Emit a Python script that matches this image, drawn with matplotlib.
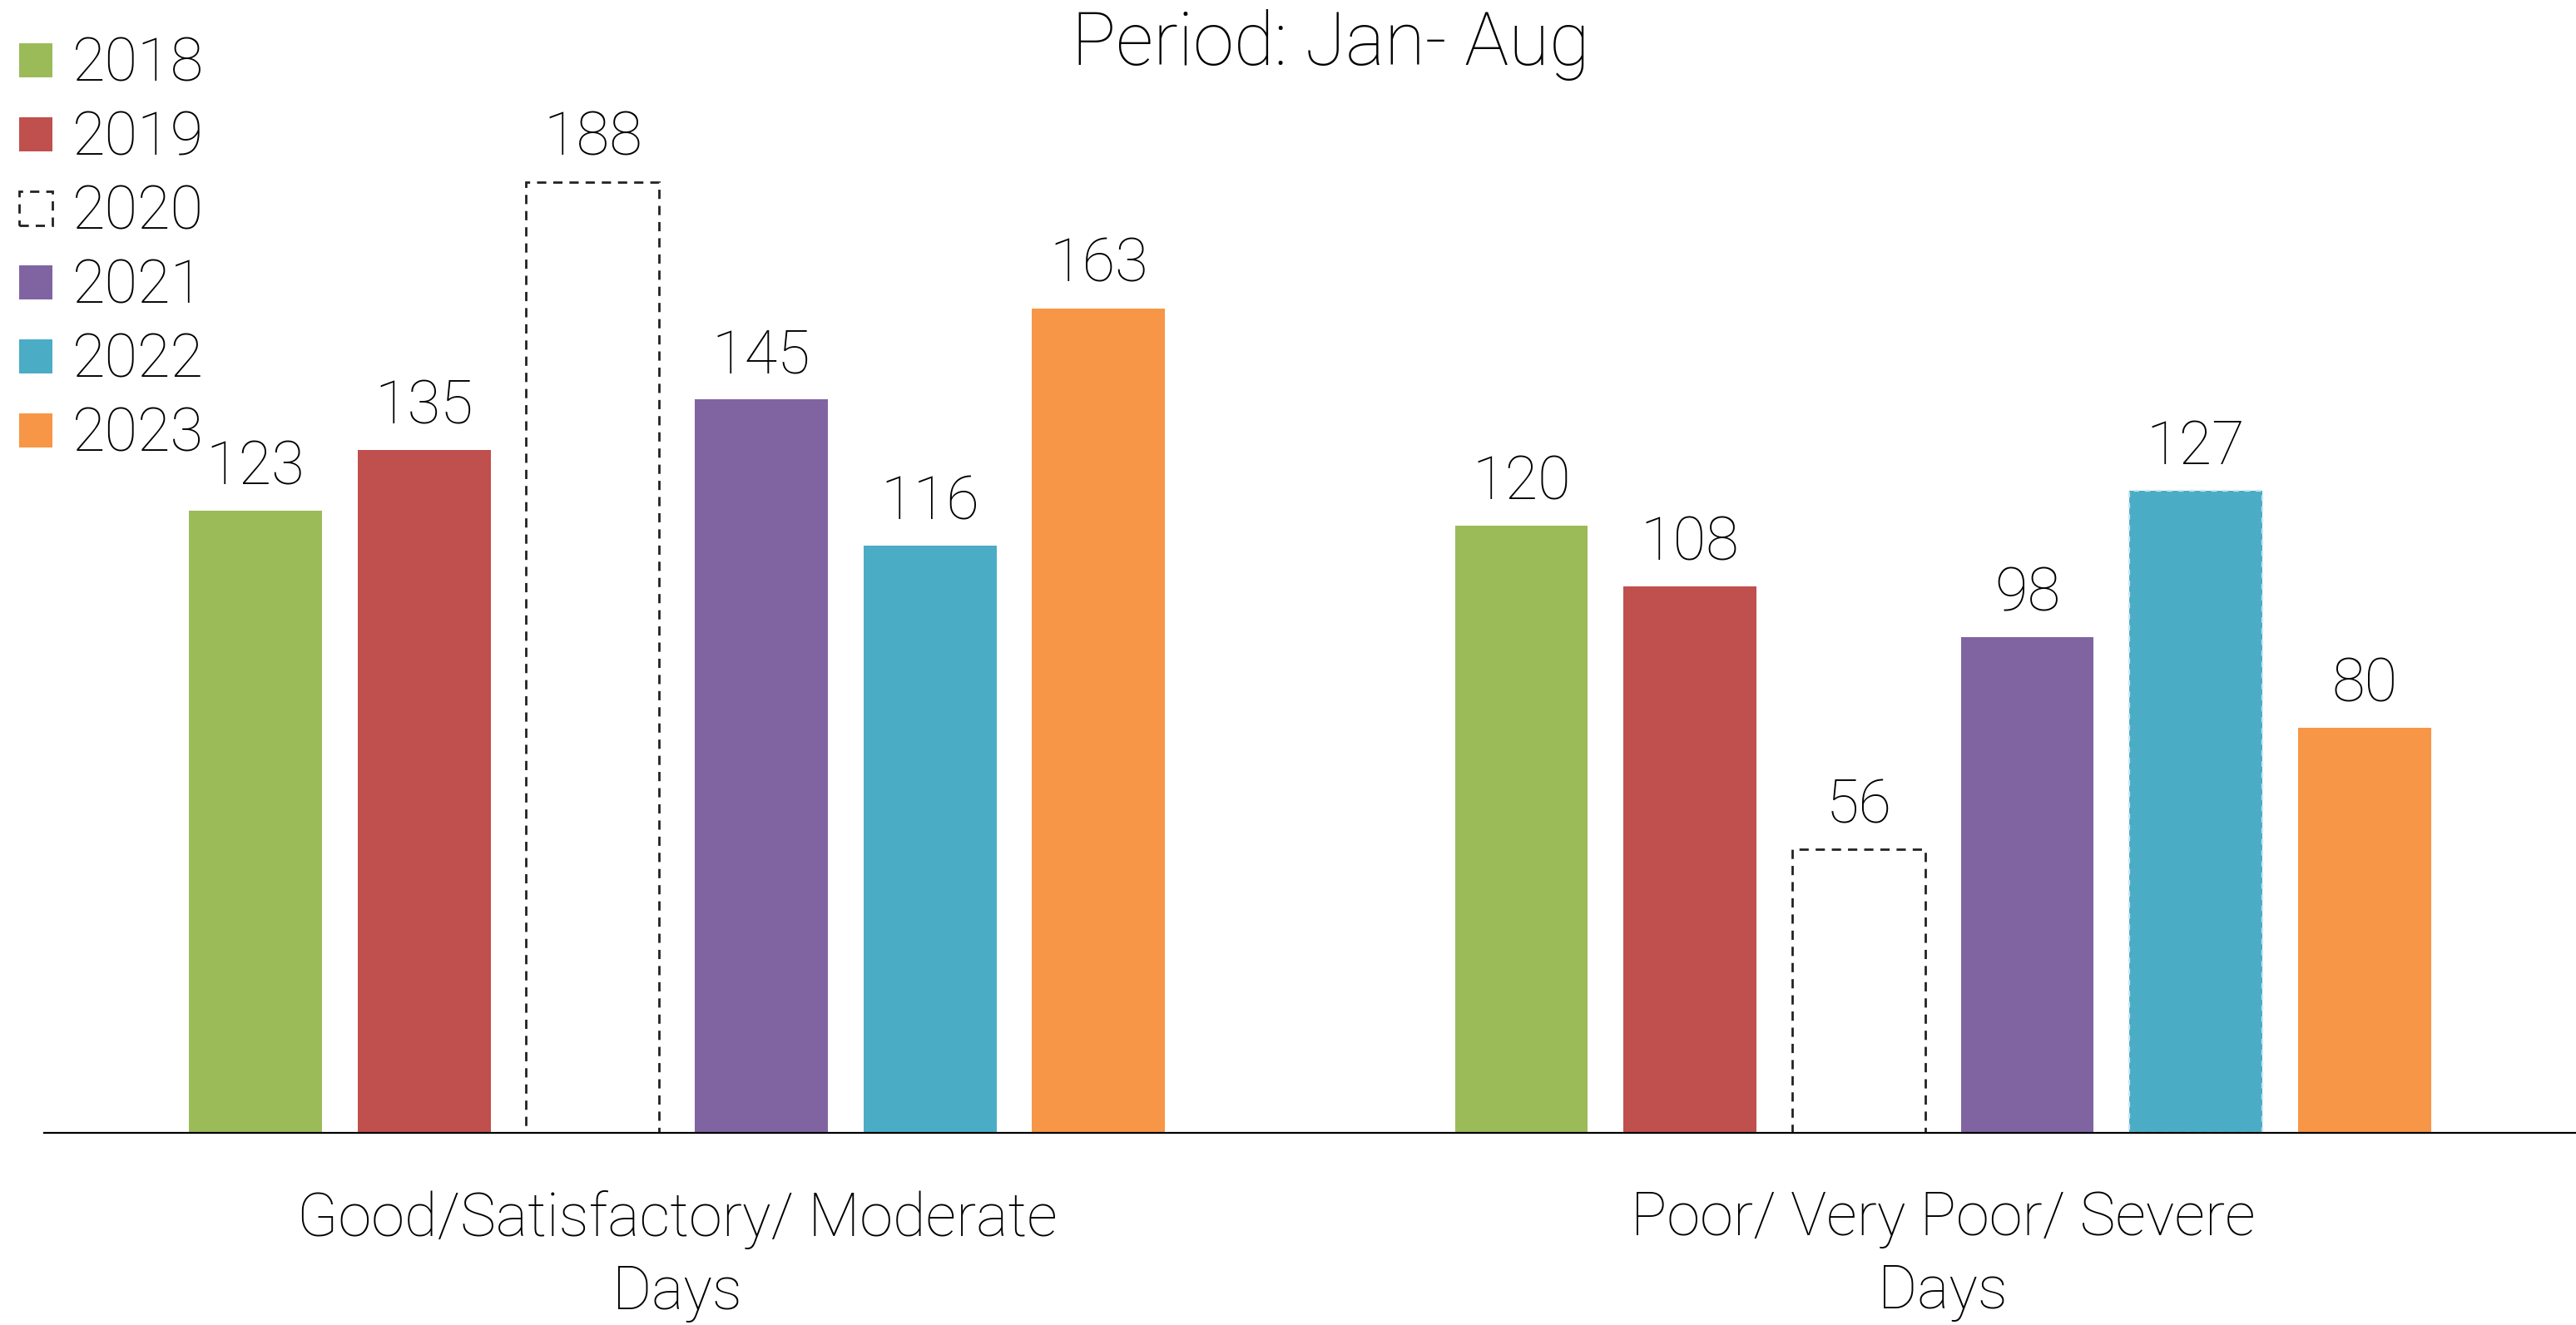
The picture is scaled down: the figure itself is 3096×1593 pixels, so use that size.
import matplotlib
matplotlib.use("Agg")
import matplotlib.pyplot as plt
import numpy as np

FIG_SIZE = (15.48, 7.965)

plt.rcParams['font.family'] = ['Roboto', 'DejaVu Sans']
plt.rcParams['font.weight'] = 'light'

categories = ["Good/Satisfactory/ Moderate\nDays", "Poor/ Very Poor/ Severe\nDays"]
years = ["2018", "2019", "2020", "2021", "2022", "2023"]
values = {
    "2018": [123, 120],
    "2019": [135, 108],
    "2020": [188, 56],
    "2021": [145, 98],
    "2022": [116, 127],
    "2023": [163, 80],
}
colors = ["#9BBB59", "#C0504D", "white", "#8064A2", "#4BACC6", "#F79646"]

fig = plt.figure(figsize=FIG_SIZE, dpi=200)
ax = fig.add_axes([0.0171, 0.145, 0.9829, 0.84])

x = np.arange(len(categories))
step = 0.1332
width = 0.105

for i, yr in enumerate(years):
    pos = x + (i - 2.5) * step
    if yr == "2020":
        bars = ax.bar(pos, values[yr], width, color="white", edgecolor="#222222",
                      linestyle=(0, (4, 3)), linewidth=1.0, label=yr)
    else:
        bars = ax.bar(pos, values[yr], width, color=colors[i], label=yr)
    for b, v in zip(bars, values[yr]):
        ax.annotate(str(v), (b.get_x() + b.get_width() / 2, v),
                    xytext=(0, 6), textcoords="offset points",
                    ha="center", va="bottom", fontsize=26)

# 2022 bar in the second group has a dashed light outline
b = ax.patches[4 * 2 + 1]
b.set_edgecolor("#C9E6EE")
b.set_linestyle((0, (3, 3)))
b.set_linewidth(0.8)

ax.set_xlim(-0.5, 1.5)
ax.set_ylim(0, 220)
ax.set_xticks(x)
ax.set_xticklabels(categories, fontsize=26, linespacing=1.32)
ax.tick_params(axis="x", length=0, pad=25)
ax.set_yticks([])
for s in ["top", "right", "left"]:
    ax.spines[s].set_visible(False)
ax.spines["bottom"].set_linewidth(0.8)

fig.text(0.5166, 0.966, "Period: Jan- Aug", ha="center", va="center", fontsize=32)

fig.legend(loc="upper left", bbox_to_anchor=(-0.0065, 1.0), frameon=False,
           fontsize=26, handlelength=0.55, handleheight=0.5,
           handletextpad=0.33, labelspacing=0.27, borderaxespad=0.2)

plt.savefig("out.png", dpi=200)
